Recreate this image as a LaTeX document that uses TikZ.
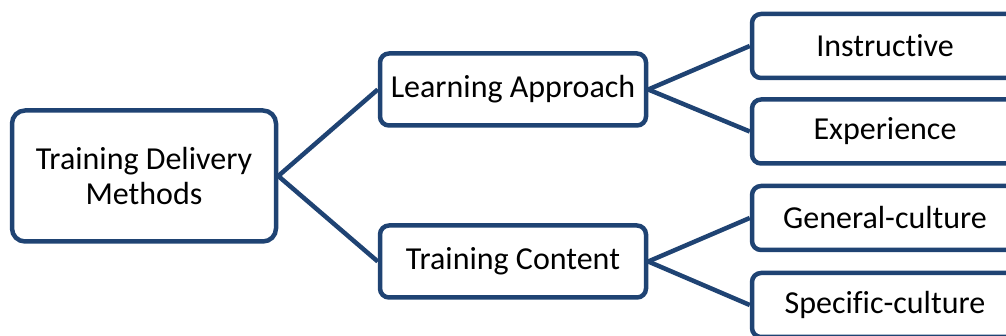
\documentclass[tikz,border=0pt]{standalone}
\usepackage{fontspec}
\setmainfont{Carlito}[Ligatures=NoCommon]
\definecolor{boxblue}{RGB}{31,67,115}
\begin{document}
\begin{tikzpicture}[x=1pt,y=-1pt,
    box/.style={draw=boxblue,line width=4.5pt,rounded corners=9pt,fill=white,
      align=center,inner sep=0pt,font=\fontsize{32}{35}\selectfont},
    link/.style={draw=boxblue,line width=4.5pt}]
                    \useasboundingbox (0,0) rectangle (1006,336);
                    \clip (0,0) rectangle (1006,336);

                    % Drawing root box
                    \node [box,rounded corners=13pt,minimum width=264pt,minimum height=131pt] (root) at (144,176) {Training Delivery\\Methods};%

                    % Drawing middle boxes
                    \node [box,minimum width=266pt,minimum height=72pt] (approach) at (513,89.5) {Learning Approach};%
                    \node [box,minimum width=266pt,minimum height=72pt] (content) at (513,261.5) {Training Content};%

                    % Drawing leaf boxes
                    \node [box,minimum width=266pt,minimum height=64pt] (instr) at (885,46) {Instructive};%
                    \node [box,minimum width=266pt,minimum height=64pt] (exper) at (885,131.5) {Experience};%
                    \node [box,minimum width=266pt,minimum height=64pt] (general) at (885,218) {General-culture};%
                    \node [box,minimum width=266pt,minimum height=64pt] (specific) at (885,305) {Specific-culture};%

                    % Drawing segments root - middle
                    \draw [link] (root.east) -- (approach.west);%
                    \draw [link] (root.east) -- (content.west);%

                    % Drawing segments middle - leaves
                    \draw [link] (approach.east) -- (instr.west);%
                    \draw [link] (approach.east) -- (exper.west);%
                    \draw [link] (content.east) -- (general.west);%
                    \draw [link] (content.east) -- (specific.west);%
                \end{tikzpicture}
\end{document}
